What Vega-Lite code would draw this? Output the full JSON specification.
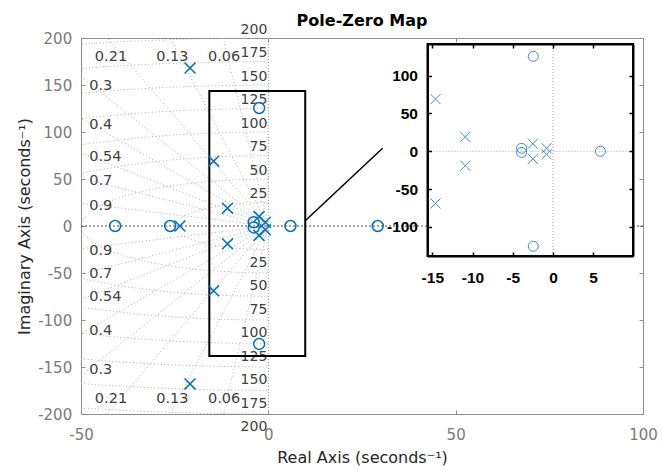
{
"$schema":"https://vega.github.io/schema/vega-lite/v6.json",
"width":562,"height":376,
"autosize":{"type":"none"},
"padding":{"left":81,"top":38,"right":19,"bottom":56},
"background":"white",
"title":{"text":"Pole-Zero Map","font":"DejaVu Sans","fontSize":16,"fontWeight":"bold","color":"#000000","frame":"group","anchor":"middle","offset":13,"baseline":"alphabetic","dy":32},
"config":{"view":{"stroke":null},"font":"DejaVu Sans","axis":{"grid":false}},
"datasets":{
"pz":[
{"kind":"pole","x":-23.6,"y":0},{"kind":"pole","x":-20.9,"y":168},{"kind":"pole","x":-20.9,"y":-168},
{"kind":"pole","x":-14.6,"y":69},{"kind":"pole","x":-14.6,"y":-69},{"kind":"pole","x":-10.9,"y":19},{"kind":"pole","x":-10.9,"y":-19},
{"kind":"pole","x":-2.5,"y":10},{"kind":"pole","x":-2.5,"y":-10},{"kind":"pole","x":-0.8,"y":4},{"kind":"pole","x":-0.8,"y":-4},
{"kind":"zero","x":-40.9,"y":0},{"kind":"zero","x":-26.2,"y":0},{"kind":"zero","x":-3.9,"y":4},{"kind":"zero","x":-3.9,"y":-1.5},
{"kind":"zero","x":-2.45,"y":125.5},{"kind":"zero","x":-2.45,"y":-125.5},{"kind":"zero","x":5.9,"y":0},{"kind":"zero","x":29.2,"y":0}
],
"circles":[
{"wn":25,"t":0,"x":0,"y":25},{"wn":25,"t":10,"x":-4.34,"y":24.62},{"wn":25,"t":20,"x":-8.55,"y":23.49},{"wn":25,"t":30,"x":-12.5,"y":21.65},{"wn":25,"t":40,"x":-16.07,"y":19.15},{"wn":25,"t":50,"x":-19.15,"y":16.07},{"wn":25,"t":60,"x":-21.65,"y":12.5},{"wn":25,"t":70,"x":-23.49,"y":8.55},{"wn":25,"t":80,"x":-24.62,"y":4.34},{"wn":25,"t":90,"x":-25,"y":0},{"wn":25,"t":100,"x":-24.62,"y":-4.34},{"wn":25,"t":110,"x":-23.49,"y":-8.55},{"wn":25,"t":120,"x":-21.65,"y":-12.5},{"wn":25,"t":130,"x":-19.15,"y":-16.07},{"wn":25,"t":140,"x":-16.07,"y":-19.15},{"wn":25,"t":150,"x":-12.5,"y":-21.65},{"wn":25,"t":160,"x":-8.55,"y":-23.49},{"wn":25,"t":170,"x":-4.34,"y":-24.62},{"wn":25,"t":180,"x":0,"y":-25},
{"wn":50,"t":0,"x":0,"y":50},{"wn":50,"t":10,"x":-8.68,"y":49.24},{"wn":50,"t":20,"x":-17.1,"y":46.98},{"wn":50,"t":30,"x":-25,"y":43.3},{"wn":50,"t":40,"x":-32.14,"y":38.3},{"wn":50,"t":50,"x":-38.3,"y":32.14},{"wn":50,"t":60,"x":-43.3,"y":25},{"wn":50,"t":70,"x":-46.98,"y":17.1},{"wn":50,"t":80,"x":-49.24,"y":8.68},{"wn":50,"t":90,"x":-50,"y":0},{"wn":50,"t":100,"x":-49.24,"y":-8.68},{"wn":50,"t":110,"x":-46.98,"y":-17.1},{"wn":50,"t":120,"x":-43.3,"y":-25},{"wn":50,"t":130,"x":-38.3,"y":-32.14},{"wn":50,"t":140,"x":-32.14,"y":-38.3},{"wn":50,"t":150,"x":-25,"y":-43.3},{"wn":50,"t":160,"x":-17.1,"y":-46.98},{"wn":50,"t":170,"x":-8.68,"y":-49.24},{"wn":50,"t":180,"x":0,"y":-50},
{"wn":75,"t":0,"x":0,"y":75},{"wn":75,"t":10,"x":-13.02,"y":73.86},{"wn":75,"t":20,"x":-25.65,"y":70.48},{"wn":75,"t":30,"x":-37.5,"y":64.95},{"wn":75,"t":40,"x":-48.21,"y":57.45},{"wn":75,"t":50,"x":-57.45,"y":48.21},{"wn":75,"t":130,"x":-57.45,"y":-48.21},{"wn":75,"t":140,"x":-48.21,"y":-57.45},{"wn":75,"t":150,"x":-37.5,"y":-64.95},{"wn":75,"t":160,"x":-25.65,"y":-70.48},{"wn":75,"t":170,"x":-13.02,"y":-73.86},{"wn":75,"t":180,"x":0,"y":-75},
{"wn":100,"t":0,"x":0,"y":100},{"wn":100,"t":5,"x":-8.72,"y":99.62},{"wn":100,"t":10,"x":-17.36,"y":98.48},{"wn":100,"t":15,"x":-25.88,"y":96.59},{"wn":100,"t":20,"x":-34.2,"y":93.97},{"wn":100,"t":30,"x":-50,"y":86.6},{"wn":100,"t":40,"x":-64.28,"y":76.6},{"wn":100,"t":140,"x":-64.28,"y":-76.6},{"wn":100,"t":150,"x":-50,"y":-86.6},{"wn":100,"t":160,"x":-34.2,"y":-93.97},{"wn":100,"t":165,"x":-25.88,"y":-96.59},{"wn":100,"t":170,"x":-17.36,"y":-98.48},{"wn":100,"t":175,"x":-8.72,"y":-99.62},{"wn":100,"t":180,"x":0,"y":-100},
{"wn":125,"t":0,"x":0,"y":125},{"wn":125,"t":5,"x":-10.9,"y":124.52},{"wn":125,"t":10,"x":-21.71,"y":123.1},{"wn":125,"t":15,"x":-32.35,"y":120.74},{"wn":125,"t":20,"x":-42.75,"y":117.46},{"wn":125,"t":30,"x":-62.5,"y":108.25},{"wn":125,"t":150,"x":-62.5,"y":-108.25},{"wn":125,"t":160,"x":-42.75,"y":-117.46},{"wn":125,"t":165,"x":-32.35,"y":-120.74},{"wn":125,"t":170,"x":-21.71,"y":-123.1},{"wn":125,"t":175,"x":-10.9,"y":-124.52},{"wn":125,"t":180,"x":0,"y":-125},
{"wn":150,"t":0,"x":0,"y":150},{"wn":150,"t":5,"x":-13.07,"y":149.43},{"wn":150,"t":10,"x":-26.05,"y":147.72},{"wn":150,"t":15,"x":-38.82,"y":144.89},{"wn":150,"t":20,"x":-51.3,"y":140.95},{"wn":150,"t":160,"x":-51.3,"y":-140.95},{"wn":150,"t":165,"x":-38.82,"y":-144.89},{"wn":150,"t":170,"x":-26.05,"y":-147.72},{"wn":150,"t":175,"x":-13.07,"y":-149.43},{"wn":150,"t":180,"x":0,"y":-150},
{"wn":175,"t":0,"x":0,"y":175},{"wn":175,"t":5,"x":-15.25,"y":174.33},{"wn":175,"t":10,"x":-30.39,"y":172.34},{"wn":175,"t":15,"x":-45.29,"y":169.04},{"wn":175,"t":20,"x":-59.85,"y":164.45},{"wn":175,"t":160,"x":-59.85,"y":-164.45},{"wn":175,"t":165,"x":-45.29,"y":-169.04},{"wn":175,"t":170,"x":-30.39,"y":-172.34},{"wn":175,"t":175,"x":-15.25,"y":-174.33},{"wn":175,"t":180,"x":0,"y":-175},
{"wn":200,"t":0,"x":0,"y":200},{"wn":200,"t":5,"x":-17.43,"y":199.24},{"wn":200,"t":10,"x":-34.73,"y":196.96},{"wn":200,"t":15,"x":-51.76,"y":193.19},{"wn":200,"t":20,"x":-68.4,"y":187.94},{"wn":200,"t":160,"x":-68.4,"y":-187.94},{"wn":200,"t":165,"x":-51.76,"y":-193.19},{"wn":200,"t":170,"x":-34.73,"y":-196.96},{"wn":200,"t":175,"x":-17.43,"y":-199.24},{"wn":200,"t":180,"x":0,"y":-200}
],
"rays":[
{"z":0.06,"x1":0,"y1":0,"x2":-15.6,"y2":259.5},{"z":0.06,"x1":0,"y1":0,"x2":-15.6,"y2":-259.5},
{"z":0.13,"x1":0,"y1":0,"x2":-33.8,"y2":257.8},{"z":0.13,"x1":0,"y1":0,"x2":-33.8,"y2":-257.8},
{"z":0.21,"x1":0,"y1":0,"x2":-54.6,"y2":254.2},{"z":0.21,"x1":0,"y1":0,"x2":-54.6,"y2":-254.2},
{"z":0.3,"x1":0,"y1":0,"x2":-78,"y2":248},{"z":0.3,"x1":0,"y1":0,"x2":-78,"y2":-248},
{"z":0.4,"x1":0,"y1":0,"x2":-104,"y2":238.3},{"z":0.4,"x1":0,"y1":0,"x2":-104,"y2":-238.3},
{"z":0.54,"x1":0,"y1":0,"x2":-140.4,"y2":218.8},{"z":0.54,"x1":0,"y1":0,"x2":-140.4,"y2":-218.8},
{"z":0.7,"x1":0,"y1":0,"x2":-182,"y2":185.7},{"z":0.7,"x1":0,"y1":0,"x2":-182,"y2":-185.7},
{"z":0.9,"x1":0,"y1":0,"x2":-234,"y2":113.3},{"z":0.9,"x1":0,"y1":0,"x2":-234,"y2":-113.3}
],
"wnlab":[
{"t":"25","x":0,"y":25},{"t":"50","x":0,"y":50},{"t":"75","x":0,"y":75},{"t":"100","x":0,"y":100},{"t":"125","x":0,"y":125},{"t":"150","x":0,"y":150},{"t":"175","x":0,"y":175},{"t":"200","x":0,"y":200},
{"t":"25","x":0,"y":-25},{"t":"50","x":0,"y":-50},{"t":"75","x":0,"y":-75},{"t":"100","x":0,"y":-100},{"t":"125","x":0,"y":-125},{"t":"150","x":0,"y":-150},{"t":"175","x":0,"y":-175},{"t":"200","x":0,"y":-200}
],
"zlabL":[
{"t":"0.3","x":-47.8,"y":149},{"t":"0.4","x":-47.8,"y":107.4},{"t":"0.54","x":-47.8,"y":72.9},{"t":"0.7","x":-47.8,"y":47.9},{"t":"0.9","x":-47.8,"y":21.3},
{"t":"0.3","x":-47.8,"y":-153},{"t":"0.4","x":-47.8,"y":-112},{"t":"0.54","x":-47.8,"y":-76},{"t":"0.7","x":-47.8,"y":-51},{"t":"0.9","x":-47.8,"y":-26.4}
],
"zlabC":[
{"t":"0.21","x":-42,"y":180},{"t":"0.13","x":-25.6,"y":180},{"t":"0.06","x":-11.8,"y":180},
{"t":"0.21","x":-42,"y":-184},{"t":"0.13","x":-25.6,"y":-184},{"t":"0.06","x":-11.8,"y":-184}
]
},
"resolve":{"scale":{"x":"independent","y":"independent"},"axis":{"x":"independent","y":"independent"}},
"layer":[
{"data":{"values":[{"x":0,"y":0}]},
 "layer":[
  {"mark":{"type":"rule","stroke":"#4d4d4d","strokeDash":[2,2],"strokeWidth":1},
   "encoding":{"y":{"field":"y","type":"quantitative","scale":{"domain":[-200,200],"nice":false,"zero":false},
     "axis":{"orient":"right","title":null,"labels":false,"values":[-200,-150,-100,-50,0,50,100,150,200],"tickSize":-4,"tickColor":"#8c8c8c","domainColor":"#8c8c8c"}}}},
  {"mark":{"type":"rule","stroke":"#9a9a9a","strokeDash":[1,2],"strokeWidth":1},
   "encoding":{"x":{"field":"x","type":"quantitative","scale":{"domain":[-50,100],"nice":false,"zero":false},
     "axis":{"orient":"top","title":null,"labels":false,"values":[-50,0,50,100],"tickSize":-4,"tickColor":"#8c8c8c","domainColor":"#8c8c8c"}}}}
 ]},
{"layer":[
  {"data":{"name":"circles"},
   "mark":{"type":"line","clip":true,"stroke":"#b0b0b0","strokeWidth":1,"strokeDash":[1,2.5]},
   "encoding":{
    "x":{"field":"x","type":"quantitative","scale":{"domain":[-50,100],"nice":false,"zero":false},
      "axis":{"orient":"bottom","title":"Real Axis (seconds⁻¹)","values":[-50,0,50,100],"labelExpr":"''+datum.value","labelFontSize":15,"labelColor":"#7a7a7a","labelPadding":17,"tickSize":-4,"tickColor":"#8c8c8c","domainColor":"#8c8c8c","titleFontSize":16,"titleFontWeight":"normal","titleColor":"#262626","titlePadding":7,"labelFlush":false,"labelOverlap":false}},
    "y":{"field":"y","type":"quantitative","scale":{"domain":[-200,200],"nice":false,"zero":false},
      "axis":{"orient":"left","title":"Imaginary Axis (seconds⁻¹)","values":[-200,-150,-100,-50,0,50,100,150,200],"labelExpr":"''+datum.value","labelFontSize":15,"labelColor":"#7a7a7a","labelPadding":13.3,"tickSize":-4,"tickColor":"#8c8c8c","domainColor":"#8c8c8c","titleFontSize":16,"titleFontWeight":"normal","titleColor":"#262626","titlePadding":5,"labelFlush":false,"labelOverlap":false}},
    "detail":{"field":"wn","type":"nominal"},
    "order":{"field":"t","type":"quantitative"}}},
  {"data":{"name":"rays"},
   "mark":{"type":"rule","clip":true,"stroke":"#b0b0b0","strokeWidth":1,"strokeDash":[1,2.5]},
   "encoding":{"x":{"field":"x1","type":"quantitative"},"y":{"field":"y1","type":"quantitative"},"x2":{"field":"x2"},"y2":{"field":"y2"}}},
  {"data":{"name":"wnlab"},"transform":[{"filter":"datum.y > 0"}],
   "mark":{"type":"text","align":"right","baseline":"bottom","dx":-1,"dy":-1.5,"fontSize":14,"color":"#404040"},
   "encoding":{"x":{"field":"x","type":"quantitative"},"y":{"field":"y","type":"quantitative"},"text":{"field":"t","type":"nominal"}}},
  {"data":{"name":"wnlab"},"transform":[{"filter":"datum.y < 0"}],
   "mark":{"type":"text","align":"right","baseline":"top","dx":-1,"dy":6,"fontSize":14,"color":"#404040"},
   "encoding":{"x":{"field":"x","type":"quantitative"},"y":{"field":"y","type":"quantitative"},"text":{"field":"t","type":"nominal"}}},
  {"data":{"name":"zlabL"},
   "mark":{"type":"text","align":"left","baseline":"middle","fontSize":14.5,"color":"#404040"},
   "encoding":{"x":{"field":"x","type":"quantitative"},"y":{"field":"y","type":"quantitative"},"text":{"field":"t","type":"nominal"}}},
  {"data":{"name":"zlabC"},
   "mark":{"type":"text","align":"center","baseline":"middle","fontSize":14.5,"color":"#404040"},
   "encoding":{"x":{"field":"x","type":"quantitative"},"y":{"field":"y","type":"quantitative"},"text":{"field":"t","type":"nominal"}}},
  {"data":{"values":[{"x1":-15.75,"x2":9.85,"y1":-138.3,"y2":143.5}]},
   "mark":{"type":"rect","fillOpacity":0,"fill":"white","stroke":"#000000","strokeWidth":2},
   "encoding":{"x":{"field":"x1","type":"quantitative"},"x2":{"field":"x2"},"y":{"field":"y1","type":"quantitative"},"y2":{"field":"y2"}}},
  {"data":{"values":[{"x1":9.85,"y1":5.6,"x2":30.5,"y2":82.7}]},
   "mark":{"type":"rule","stroke":"#000000","strokeWidth":1.5},
   "encoding":{"x":{"field":"x1","type":"quantitative"},"x2":{"field":"x2"},"y":{"field":"y1","type":"quantitative"},"y2":{"field":"y2"}}},
  {"data":{"name":"pz"},
   "mark":{"type":"point","filled":false,"strokeWidth":1.5,"size":120,"color":"#0072BD","opacity":1},
   "encoding":{"x":{"field":"x","type":"quantitative"},"y":{"field":"y","type":"quantitative"},
    "shape":{"field":"kind","type":"nominal","scale":{"domain":["pole","zero"],"range":["M-1,-1L1,1M-1,1L1,-1","circle"]},"legend":null}}}
 ]},
{"data":{"values":[{"x1":-15.6,"x2":9.95,"y1":-138.4,"y2":141.8}]},
 "mark":{"type":"rect","fill":"white","stroke":"#000000","strokeWidth":2},
 "encoding":{
  "x":{"field":"x1","type":"quantitative","scale":{"domain":[-15.6,9.95],"range":[346.5,552],"nice":false,"zero":false},
    "axis":{"orient":"bottom","offset":-158,"title":null,"values":[-15,-10,-5,0,5],"labelExpr":"''+datum.value","labelFont":"Liberation Sans","labelFontSize":15.5,"labelFontWeight":"bold","labelColor":"#000000","labelPadding":18.5,"tickSize":-4,"tickColor":"#000000","tickWidth":1.5,"domainColor":"#000000","domainWidth":2,"zindex":2,"labelFlush":false,"labelOverlap":false}},
  "x2":{"field":"x2"},
  "y":{"field":"y1","type":"quantitative","scale":{"domain":[-138.4,141.8],"range":[218,6],"nice":false,"zero":false},
    "axis":{"orient":"left","offset":-346.5,"title":null,"values":[-100,-50,0,50,100],"labelExpr":"''+datum.value","labelFont":"Liberation Sans","labelFontSize":15.5,"labelFontWeight":"bold","labelColor":"#000000","labelPadding":14,"tickSize":-4,"tickColor":"#000000","tickWidth":1.5,"domainColor":"#000000","domainWidth":2,"zindex":2,"labelFlush":false,"labelOverlap":false}},
  "y2":{"field":"y2"}}},
{"layer":[
  {"data":{"values":[{"x1":-15.6,"x2":9.95,"y":0}]},
   "mark":{"type":"rule","stroke":"#a0a0a0","strokeDash":[1,2],"strokeWidth":1},
   "encoding":{
    "x":{"field":"x1","type":"quantitative","scale":{"domain":[-15.6,9.95],"range":[346.5,552],"nice":false,"zero":false},
      "axis":{"orient":"top","offset":-6,"title":null,"labels":false,"values":[-15,-10,-5,0,5],"tickSize":-4,"tickColor":"#000000","tickWidth":1.5,"domainColor":"#000000","domainWidth":2,"zindex":2}},
    "x2":{"field":"x2"},
    "y":{"field":"y","type":"quantitative","scale":{"domain":[-138.4,141.8],"range":[218,6],"nice":false,"zero":false},
      "axis":{"orient":"right","offset":-10,"title":null,"labels":false,"values":[-100,-50,0,50,100],"tickSize":-4,"tickColor":"#000000","tickWidth":1.5,"domainColor":"#000000","domainWidth":2,"zindex":2}}}},
  {"data":{"values":[{"x":0,"y1":-138.4,"y2":141.8}]},
   "mark":{"type":"rule","stroke":"#a0a0a0","strokeDash":[1,2],"strokeWidth":1},
   "encoding":{"x":{"field":"x","type":"quantitative"},"y":{"field":"y1","type":"quantitative"},"y2":{"field":"y2"}}},
  {"data":{"name":"pz"},
   "transform":[{"filter":"datum.x > -15.6 && datum.x < 9.95 && datum.y > -138.4 && datum.y < 141.8"}],
   "mark":{"type":"point","filled":false,"strokeWidth":1,"size":100,"color":"#3a8fd0","opacity":1},
   "encoding":{"x":{"field":"x","type":"quantitative"},"y":{"field":"y","type":"quantitative"},
    "shape":{"field":"kind","type":"nominal","scale":{"domain":["pole","zero"],"range":["M-1,-1L1,1M-1,1L1,-1","circle"]},"legend":null}}}
 ]}
]
}
